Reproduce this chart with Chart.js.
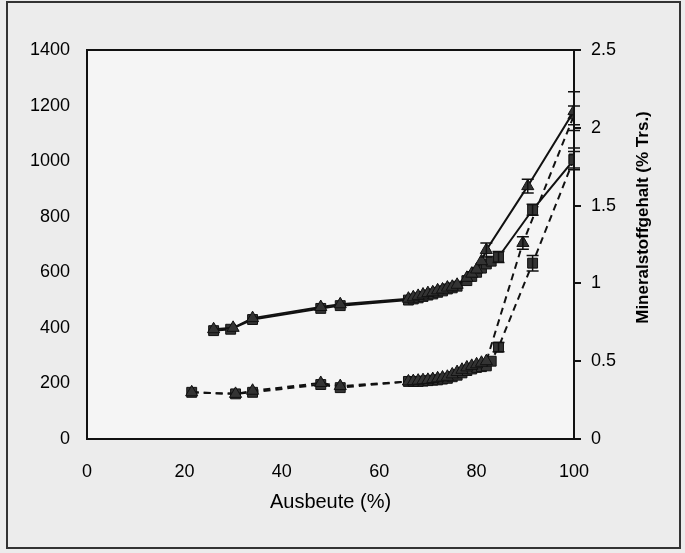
<!DOCTYPE html>
<html>
<head>
<meta charset="utf-8">
<script src="https://cdn.jsdelivr.net/npm/chart.js@4/dist/chart.umd.min.js"></script>
<style>
  html, body { margin: 0; padding: 0; background: #ececec; }
  #wrap { width: 685px; height: 553px; }
</style>
</head>
<body>
<div id="wrap"><canvas id="chart" width="685" height="553"></canvas></div>
<script>
// Ausbeute (%) vs. values, solid = left axis, dashed = right axis (% Trs.)
const solidTriX = [26, 30, 34, 48, 52, 66, 67, 68, 69, 70, 71, 72, 73, 74, 75, 76, 78, 79, 80, 81, 82, 90.5, 100];
const solidTriY = [395, 400, 435, 475, 485, 505, 510, 515, 520, 525, 528, 535, 538, 545, 548, 555, 580, 595, 610, 640, 680, 910, 1180];
const solidTriErr = [0, 0, 0, 0, 0, 0, 0, 0, 0, 0, 0, 0, 0, 0, 0, 0, 0, 0, 0, 0, 25, 25, 70];

const solidSqX = [26, 29.5, 34, 48, 52, 66, 67, 68, 69, 70, 71, 72, 73, 74, 75, 76, 78, 79, 80, 81, 82, 83, 84.5, 91.5, 100];
const solidSqY = [390, 395, 430, 470, 480, 500, 504, 508, 513, 518, 522, 528, 533, 540, 544, 550, 570, 585, 600, 615, 630, 640, 655, 825, 1005];
const solidSqErr = [0, 0, 0, 0, 0, 0, 0, 0, 0, 0, 0, 0, 0, 0, 0, 0, 0, 0, 0, 0, 0, 0, 20, 20, 30];

const dashTriX = [21.5, 30.5, 34, 48, 52, 66, 67, 68, 69, 70, 71, 72, 73, 74, 75, 76, 77, 78, 79, 80, 81, 82, 89.5, 100];
const dashTriY = [0.30, 0.29, 0.31, 0.36, 0.34, 0.37, 0.372, 0.375, 0.378, 0.38, 0.385, 0.39, 0.395, 0.40, 0.415, 0.43, 0.445, 0.46, 0.47, 0.48, 0.49, 0.50, 1.26, 2.08];
const dashTriErr = [0, 0, 0, 0, 0, 0, 0, 0, 0, 0, 0, 0, 0, 0, 0, 0, 0, 0, 0, 0, 0, 0, 0.04, 0.06];

const dashSqX = [21.5, 30.5, 34, 48, 52, 66, 67, 68, 69, 70, 71, 72, 73, 74, 75, 76, 77, 78, 79, 80, 81, 82, 83, 84.5, 91.5, 100];
const dashSqY = [0.30, 0.29, 0.30, 0.35, 0.33, 0.37, 0.37, 0.37, 0.372, 0.375, 0.378, 0.38, 0.385, 0.39, 0.40, 0.41, 0.425, 0.44, 0.45, 0.46, 0.465, 0.47, 0.50, 0.59, 1.13, 1.80];
const dashSqErr = [0, 0, 0, 0, 0, 0, 0, 0, 0, 0, 0, 0, 0, 0, 0, 0, 0, 0, 0, 0, 0, 0, 0, 0.03, 0.05, 0.07];

const xTicks = [0, 20, 40, 60, 80, 100];
const leftTicks = [0, 200, 400, 600, 800, 1000, 1200, 1400];
const rightTicks = [0, 0.5, 1, 1.5, 2, 2.5];

const xTitle = 'Ausbeute (%)';
const rightTitle = 'Mineralstoffgehalt (% Trs.)';

const pts = (xs, ys) => xs.map((x, i) => ({ x, y: ys[i] }));

function series(xs, ys, errs, style, axis, dashed) {
  return {
    data: pts(xs, ys),
    errs,
    yAxisID: axis,
    showLine: true,
    borderColor: '#111',
    borderWidth: 2,
    borderDash: dashed ? [7, 5] : [],
    pointStyle: style,
    pointRadius: 7,
    pointBackgroundColor: '#333',
    pointBorderColor: '#111',
    pointBorderWidth: 1
  };
}

// page frame, plot box, error bars, right axis title
const decor = {
  id: 'decor',
  beforeDraw(chart) {
    const { ctx, chartArea: a } = chart;
    ctx.save();
    ctx.fillStyle = '#ececec';
    ctx.fillRect(0, 0, chart.width, chart.height);
    ctx.fillStyle = '#f5f5f5';
    ctx.fillRect(a.left, a.top, a.right - a.left, a.bottom - a.top);
    ctx.strokeStyle = '#333';
    ctx.lineWidth = 2;
    ctx.strokeRect(7, 2, 673, 546);
    ctx.restore();
  },
  beforeDatasetsDraw(chart) {
    const { ctx, chartArea: a } = chart;
    ctx.save();
    ctx.strokeStyle = '#111';
    ctx.lineWidth = 2;
    ctx.strokeRect(a.left, a.top, a.right - a.left, a.bottom - a.top);
    ctx.restore();
  },
  afterDatasetsDraw(chart) {
    const { ctx } = chart;
    ctx.save();
    ctx.strokeStyle = '#111';
    ctx.lineWidth = 1.5;
    chart.data.datasets.forEach((ds, di) => {
      const meta = chart.getDatasetMeta(di);
      const scale = chart.scales[ds.yAxisID];
      ds.data.forEach((p, i) => {
        const e = ds.errs[i];
        if (!e) return;
        const x = meta.data[i].x;
        const y1 = scale.getPixelForValue(p.y - e);
        const y2 = scale.getPixelForValue(p.y + e);
        ctx.beginPath();
        ctx.moveTo(x, y1); ctx.lineTo(x, y2);
        ctx.moveTo(x - 6, y1); ctx.lineTo(x + 6, y1);
        ctx.moveTo(x - 6, y2); ctx.lineTo(x + 6, y2);
        ctx.stroke();
      });
    });
    ctx.restore();
  },
  afterDraw(chart) {
    const { ctx } = chart;
    const a = chart.chartArea;
    ctx.save();
    ctx.translate(643, (a.top + a.bottom) / 2 - 27);
    ctx.rotate(-Math.PI / 2);
    ctx.fillStyle = '#000';
    ctx.font = 'bold 17px "Liberation Sans", Arial, sans-serif';
    ctx.textAlign = 'center';
    ctx.textBaseline = 'middle';
    ctx.fillText(rightTitle, 0, 0);
    ctx.restore();
  }
};

const font = { family: '"Liberation Sans", Arial, sans-serif', size: 18 };

new Chart(document.getElementById('chart'), {
  type: 'scatter',
  data: {
    datasets: [
      series(solidTriX, solidTriY, solidTriErr, 'triangle', 'y', false),
      series(solidSqX, solidSqY, solidSqErr, 'rect', 'y', false),
      series(dashTriX, dashTriY, dashTriErr, 'triangle', 'y1', true),
      series(dashSqX, dashSqY, dashSqErr, 'rect', 'y1', true)
    ]
  },
  options: {
    responsive: false,
    animation: false,
    layout: { padding: { top: 50, left: 0, right: 0, bottom: 0 } },
    plugins: { legend: { display: false }, tooltip: { enabled: false } },
    scales: {
      x: {
        type: 'linear',
        min: 0, max: 100,
        afterBuildTicks: s => { s.ticks = xTicks.map(v => ({ value: v })); },
        afterFit: s => { s.height = 114; },
        grid: { drawOnChartArea: false, drawTicks: false },
        border: { color: '#111', width: 2 },
        ticks: { color: '#000', font, padding: 22 },
        title: {
          display: true, text: xTitle, color: '#000',
          font: { family: font.family, size: 20 },
          padding: { top: 0, bottom: 39 }
        }
      },
      y: {
        position: 'left',
        min: 0, max: 1400,
        afterBuildTicks: s => { s.ticks = leftTicks.map(v => ({ value: v })); },
        afterFit: s => { s.width = 87; },
        grid: { drawOnChartArea: false, drawTicks: false },
        border: { color: '#111', width: 2 },
        ticks: { color: '#000', font, padding: 17, callback: v => String(v) }
      },
      y1: {
        position: 'right',
        min: 0, max: 2.5,
        afterBuildTicks: s => { s.ticks = rightTicks.map(v => ({ value: v })); },
        afterFit: s => { s.width = 111; },
        grid: { drawOnChartArea: false, drawTicks: true, tickLength: 7, color: '#111', lineWidth: 2 },
        border: { color: '#111', width: 2 },
        ticks: { color: '#000', font, padding: 10, callback: v => String(v) }
      }
    }
  },
  plugins: [decor]
});
</script>
</body>
</html>
